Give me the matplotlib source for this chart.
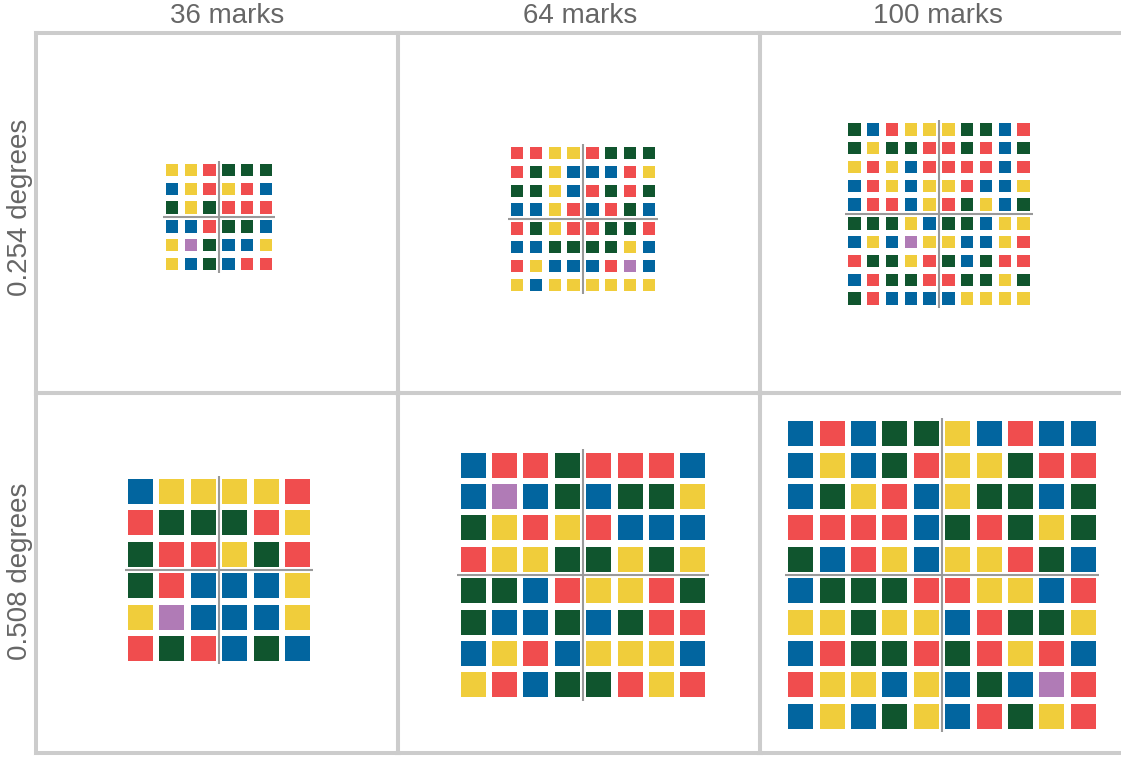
"""Colour-mark grids at two visual angles and three mark counts."""

import matplotlib
matplotlib.use('Agg')
import matplotlib.pyplot as plt


plt.rcParams['font.family'] = ['Liberation Sans', 'DejaVu Sans']

# Data: letters are mark colours, one string per grid row
col_titles = ['36 marks', '64 marks', '100 marks']
row_titles = ['0.254 degrees', '0.508 degrees']

grid_small_36 = ['YYRGGG', 'BYRYRB', 'GYGRRR', 'BBRGGB', 'YPGBBY', 'YBGBRR']
grid_small_64 = ['RRYYRGGG', 'RGYBBBRY', 'GGYBRGRG', 'BBYRBRGB',
                 'RGYRRGGR', 'BBGGGGYB', 'RYBBBRPB', 'YBYYYYYY']
grid_small_100 = ['GBRYYYGGBR', 'GYGGRRGRBG', 'YRYBRRRRBR', 'BRYBYYRBBY',
                  'BRRBYRGYBG', 'GGGYBGGBYY', 'BYBPYYBBYR', 'RGGYRGBGRR',
                  'BRGGRRGGYG', 'GRBBBBYYYY']
grid_large_36 = ['BYYYYR', 'RGGGRY', 'GRRYGR', 'GRBBBY', 'YPBBBY', 'RGRBGB']
grid_large_64 = ['BRRGRRRB', 'BPBGBGGY', 'GYRYRBBB', 'RYYGGYGY',
                 'GGBRYYRG', 'GBBGBGRR', 'BYRBYYYB', 'YRBGGRYR']
grid_large_100 = ['BRBGGYBRBB', 'BYBGRYYGRR', 'BGYRBYGGBG', 'RRRRBGRGYG',
                  'GBRYBYYRGB', 'BGGGRRYYBR', 'YYGYYBRGGY', 'BRGGRGRYRB',
                  'RYYBYBGBPR', 'BYBGYBRGYR']

grids = [[grid_small_36, grid_small_64, grid_small_100],
         [grid_large_36, grid_large_64, grid_large_100]]

# Styles
mark_colors = {'G': '#10552e', 'B': '#02659f', 'R': '#f04d4e',
               'Y': '#f0cd3b', 'P': '#b07bb6'}
text_color = '#666666'
border_color = '#cccccc'
cross_color = '#999999'

# Layout, in pixels of the 1121x758 image
W, H = 1121, 758
panel_left = [36, 398, 760]
panel_top = [33, 393]
panel_w, panel_h = 362, 360
pitch = [18.8, 31.4]            # distance between mark centres per row
fill = [0.65, 0.80]             # mark side as share of pitch
cross_xy = [[(219, 217), (583, 219), (939, 214)],
            [(219, 570), (583, 575), (942, 575)]]
title_x = [227, 580, 938]


def px_to_fig(x, y):
    return x / W, 1 - y / H


def draw_panel(ax, grid, p, share, cx, cy, left, top):
    n = len(grid)
    mid = (n - 1) / 2
    ax.set_xlim(mid - (cx - left) / p, mid + (left + panel_w - cx) / p)
    ax.set_ylim(mid + (top + panel_h - cy) / p, mid - (cy - top) / p)
    side = share
    for r, row in enumerate(grid):
        ax.bar(range(n), side, bottom=r - side / 2, width=side,
               color=[mark_colors[c] for c in row], linewidth=0, zorder=2)
    ax.plot([mid, mid], [-0.5, n - 0.5], color=cross_color, lw=1.5, zorder=1,
            solid_capstyle='butt')
    ax.plot([-0.5, n - 0.5], [mid, mid], color=cross_color, lw=1.5, zorder=1,
            solid_capstyle='butt')
    ax.set_xticks([])
    ax.set_yticks([])
    for s in ax.spines.values():
        s.set_color(border_color)
        s.set_linewidth(2.9)


fig = plt.figure(figsize=(W / 100, H / 100), dpi=100, facecolor='white')

for i, top in enumerate(panel_top):
    for j, left in enumerate(panel_left):
        x0, y1 = px_to_fig(left, top + panel_h)
        ax = fig.add_axes([x0, y1, panel_w / W, panel_h / H], facecolor='none')
        cx, cy = cross_xy[i][j]
        draw_panel(ax, grids[i][j], pitch[i], fill[i], cx, cy, left, top)
        if j == len(panel_left) - 1:
            # the last column runs off the right edge of the picture
            ax.spines['right'].set_visible(False)

for j, t in enumerate(col_titles):
    x, y = px_to_fig(title_x[j], 23)
    fig.text(x, y, t, ha='center', va='baseline', fontsize=20, color=text_color)

for i, t in enumerate(row_titles):
    x, y = px_to_fig(27, panel_top[i] + panel_h / 2 - 6 + 4 * i)
    fig.text(x, y, t, ha='center', va='baseline', rotation=90,
             rotation_mode='anchor', fontsize=20, color=text_color)

fig.savefig('out.png', dpi=100, facecolor='white')
